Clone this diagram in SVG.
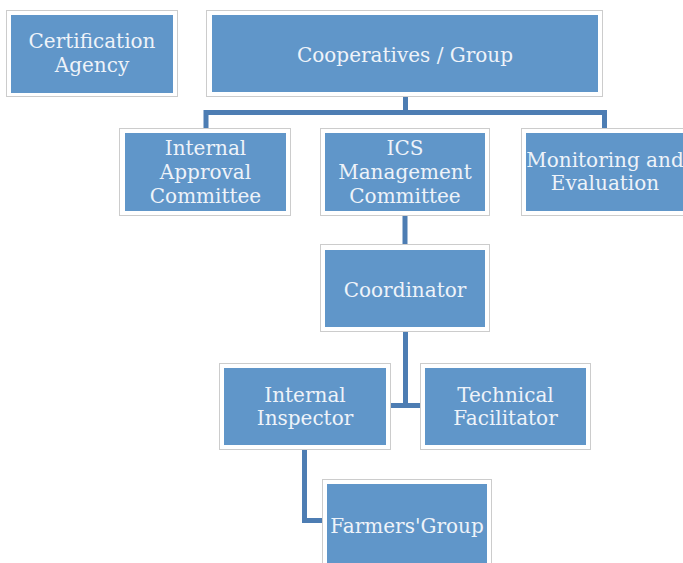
<svg xmlns="http://www.w3.org/2000/svg" width="683" height="563" viewBox="0 0 683 563">
  <style>
    .frame { fill: #ffffff; stroke: #cccccc; stroke-width: 1; }
    .box { fill: #6096c9; }
    .label { font-family: "DejaVu Serif", "Liberation Serif", serif; font-size: 20px; fill: #eef3f9; text-anchor: middle; }
    .link { fill: none; stroke: #4d7db3; stroke-width: 5; stroke-linejoin: miter; }
  </style>
  <rect width="683" height="563" fill="#ffffff"/>

  <!-- connectors -->
  <g id="connectors">
    <path class="link" d="M405.5 97 V112.5 M206 128 V112.5 H604.5 V128"/>
    <path class="link" d="M405 216 V244"/>
    <path class="link" d="M405.5 332 V405.5 M391 405.5 H420"/>
    <path class="link" d="M304.5 450 V520.5 H322"/>
  </g>

  <g id="certification-agency">
    <rect class="frame" x="6.5" y="10.5" width="171" height="86"/>
    <rect class="box" x="11" y="15" width="162" height="78"/>
    <text class="label" x="92" y="48">Certification</text>
    <text class="label" x="92" y="72">Agency</text>
  </g>

  <g id="cooperatives-group">
    <rect class="frame" x="206.5" y="10.5" width="396" height="86"/>
    <rect class="box" x="212" y="15" width="386" height="77"/>
    <text class="label" x="405" y="62">Cooperatives / Group</text>
  </g>

  <g id="internal-approval-committee">
    <rect class="frame" x="119.5" y="128.5" width="171" height="87"/>
    <rect class="box" x="125" y="133" width="161" height="78"/>
    <text class="label" x="205.5" y="155">Internal</text>
    <text class="label" x="205.5" y="179">Approval</text>
    <text class="label" x="205.5" y="203">Committee</text>
  </g>

  <g id="ics-management-committee">
    <rect class="frame" x="320.5" y="128.5" width="169" height="87"/>
    <rect class="box" x="325" y="133" width="160" height="78"/>
    <text class="label" x="405" y="155">ICS</text>
    <text class="label" x="405" y="179">Management</text>
    <text class="label" x="405" y="203">Committee</text>
  </g>

  <g id="monitoring-evaluation">
    <rect class="frame" x="521.5" y="128.5" width="168" height="87"/>
    <rect class="box" x="526" y="133" width="159" height="78"/>
    <text class="label" x="605" y="167">Monitoring and</text>
    <text class="label" x="605" y="190">Evaluation</text>
  </g>

  <g id="coordinator">
    <rect class="frame" x="320.5" y="244.5" width="169" height="87"/>
    <rect class="box" x="325" y="250" width="160" height="77"/>
    <text class="label" x="405" y="297">Coordinator</text>
  </g>

  <g id="internal-inspector">
    <rect class="frame" x="219.5" y="363.5" width="171" height="86"/>
    <rect class="box" x="224" y="368" width="162" height="77"/>
    <text class="label" x="305" y="402">Internal</text>
    <text class="label" x="305" y="425">Inspector</text>
  </g>

  <g id="technical-facilitator">
    <rect class="frame" x="420.5" y="363.5" width="170" height="86"/>
    <rect class="box" x="425" y="368" width="161" height="77"/>
    <text class="label" x="505.5" y="402">Technical</text>
    <text class="label" x="505.5" y="425">Facilitator</text>
  </g>

  <g id="farmers-group">
    <rect class="frame" x="322.5" y="479.5" width="169" height="100"/>
    <rect class="box" x="327" y="484" width="160" height="90"/>
    <text class="label" x="407" y="533">Farmers'Group</text>
  </g>
</svg>
